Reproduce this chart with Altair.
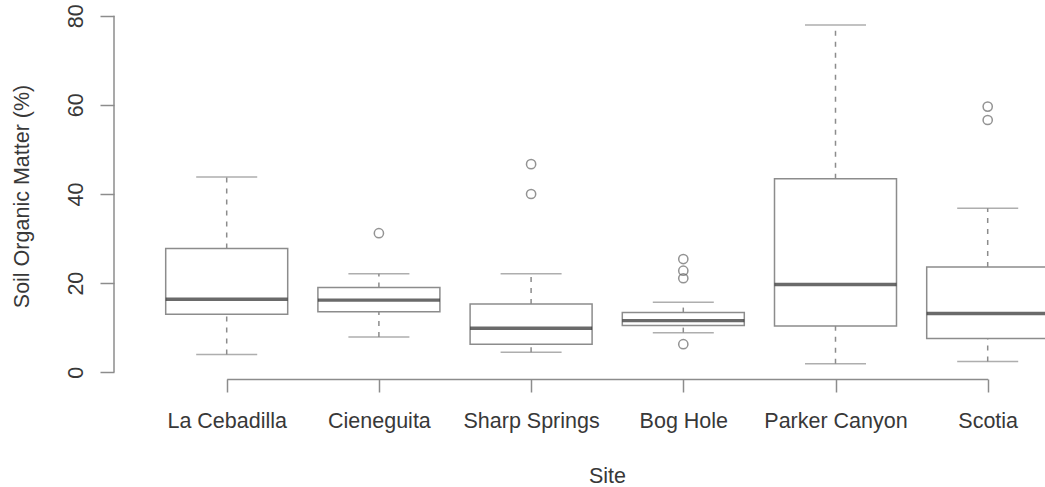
import altair as alt
import pandas as pd

sites = ["La Cebadilla", "Cieneguita", "Sharp Springs", "Bog Hole", "Parker Canyon", "Scotia"]
lower_whisker = [4.0, 7.9, 4.5, 8.9, 1.9, 2.4]
q1 = [13.0, 13.6, 6.3, 10.5, 10.4, 7.6]
median = [16.4, 16.2, 9.9, 11.6, 19.7, 13.2]
q3 = [27.8, 19.0, 15.3, 13.4, 43.4, 23.6]
upper_whisker = [43.8, 22.1, 22.1, 15.7, 77.9, 36.8]

outlier_site = ["Cieneguita", "Sharp Springs", "Sharp Springs", "Bog Hole", "Bog Hole",
                "Bog Hole", "Bog Hole", "Scotia", "Scotia"]
outlier_value = [31.2, 46.7, 40.0, 25.4, 22.8, 21.1, 6.3, 59.6, 56.6]

y_ticks = [0, 20, 40, 60, 80]

FONT = "Liberation Sans"
LINE = "#8c8c8c"
TEXT = "#383838"
FS = 21.5

box_df = pd.DataFrame({"site": sites, "lw": lower_whisker, "q1": q1, "med": median,
                       "q3": q3, "uw": upper_whisker})
out_df = pd.DataFrame({"site": outlier_site, "value": outlier_value})
yaxis_df = pd.DataFrame({"lo": [y_ticks[0]], "hi": [y_ticks[-1]]})

x_scale = alt.Scale(type="point", range=[112.7, 873.7], padding=0)
y_scale = alt.Scale(domain=[-1.5, 81.05], nice=False, zero=False)

x_axis = alt.Axis(
    title="Site", labelAngle=0, domainColor=LINE, domainWidth=1.5,
    tickColor=LINE, tickWidth=1.5, tickSize=13,
    labelFont=FONT, labelFontSize=FS, labelColor=TEXT, labelPadding=35,
    labelBaseline="alphabetic", labelOverlap=False,
    titleFont=FONT, titleFontSize=FS, titleColor=TEXT, titleFontWeight="normal",
    titleX=493, titleY=103, titleAlign="center", titleBaseline="alphabetic",
)
y_axis = alt.Axis(
    title="Soil Organic Matter (%)", values=y_ticks, domain=False, grid=False,
    tickColor=LINE, tickWidth=1.5, tickSize=14,
    labelAngle=-90, labelAlign="center", labelBaseline="alphabetic", labelPadding=18,
    labelFont=FONT, labelFontSize=FS, labelColor=TEXT,
    titleFont=FONT, titleFontSize=FS, titleColor=TEXT, titleFontWeight="normal",
    titleAngle=-90, titleX=-86, titleY=185, titleAlign="center", titleBaseline="alphabetic",
)


def X():
    return alt.X("site:N", sort=sites, scale=x_scale, axis=x_axis)


def Y(field):
    return alt.Y(field, type="quantitative", scale=y_scale, axis=y_axis)


base = alt.Chart(box_df)

lower = base.mark_rule(color=LINE, strokeWidth=1.5, strokeDash=[5, 6]).encode(
    x=X(), y=Y("lw"), y2="q1:Q",
)
upper = base.mark_rule(color=LINE, strokeWidth=1.5, strokeDash=[5, 6]).encode(
    x=X(), y=Y("q3"), y2="uw:Q",
)
cap_lo = base.mark_tick(color=LINE, size=61, thickness=1.5).encode(x=X(), y=Y("lw"))
cap_hi = base.mark_tick(color=LINE, size=61, thickness=1.5).encode(x=X(), y=Y("uw"))
box = base.mark_bar(size=122, fill="white", stroke=LINE, strokeWidth=1.5).encode(
    x=X(), y=Y("q1"), y2="q3:Q",
)
med = base.mark_tick(color="#2b2b2b", size=122, thickness=3.4).encode(x=X(), y=Y("med"))
outliers = alt.Chart(out_df).mark_point(shape="circle", filled=False, size=85,
                                         color="#666666", strokeWidth=1.5).encode(
    x=X(), y=Y("value"),
)
yline = alt.Chart(yaxis_df).mark_rule(color=LINE, strokeWidth=1.5).encode(
    x=alt.value(0), y=Y("lo"), y2="hi:Q",
)

chart = alt.layer(lower, upper, cap_lo, cap_hi, box, med, outliers, yline).properties(
    width=931, height=368,
    padding={"left": 114, "top": 11, "right": 0, "bottom": 108},
    autosize=alt.AutoSizeParams(type="none"),
    background="white",
).configure_view(stroke=None)

chart.save("out.html", embed_options={"renderer": "svg", "actions": False})
